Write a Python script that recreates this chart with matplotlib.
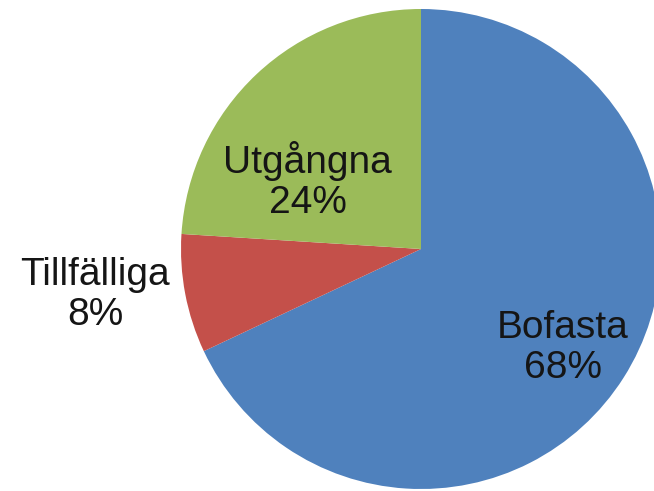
import numpy as np
import matplotlib
matplotlib.use('Agg')
import matplotlib.pyplot as plt

# data
labels = ['Bofasta', 'Tillfälliga', 'Utgångna']
shares = [68, 8, 24]
colors = ['#4F81BD', '#C4504A', '#9BBB59']

# label placement (angle in degrees, distance in pie radii)
label_angle = [-34.8, 188.0, 149.0]
label_dist = [0.72, 1.37, 0.55]

W, H = 654, 491
fig = plt.figure(figsize=(W / 100, H / 100), dpi=100)
ax = fig.add_axes([0, 0, 1, 1])

cx, cy, r = 421, H - 249, 240
wedges, _ = ax.pie(shares, colors=colors, startangle=90, counterclock=False,
                   center=(cx, cy), radius=r, frame=True,
                   wedgeprops=dict(linewidth=0))
ax.set_xlim(0, W)
ax.set_ylim(0, H)
ax.set_aspect('equal')
ax.axis('off')

for lab, val, a, d in zip(labels, shares, label_angle, label_dist):
    t = np.deg2rad(a)
    x = cx + d * r * np.cos(t)
    y = cy + d * r * np.sin(t)
    ax.text(x, y, f'{lab}\n{val}%', ha='center', va='center',
            fontsize=28, family='Liberation Sans', color='#151515',
            linespacing=1.15)

fig.savefig('out.png', dpi=100)
